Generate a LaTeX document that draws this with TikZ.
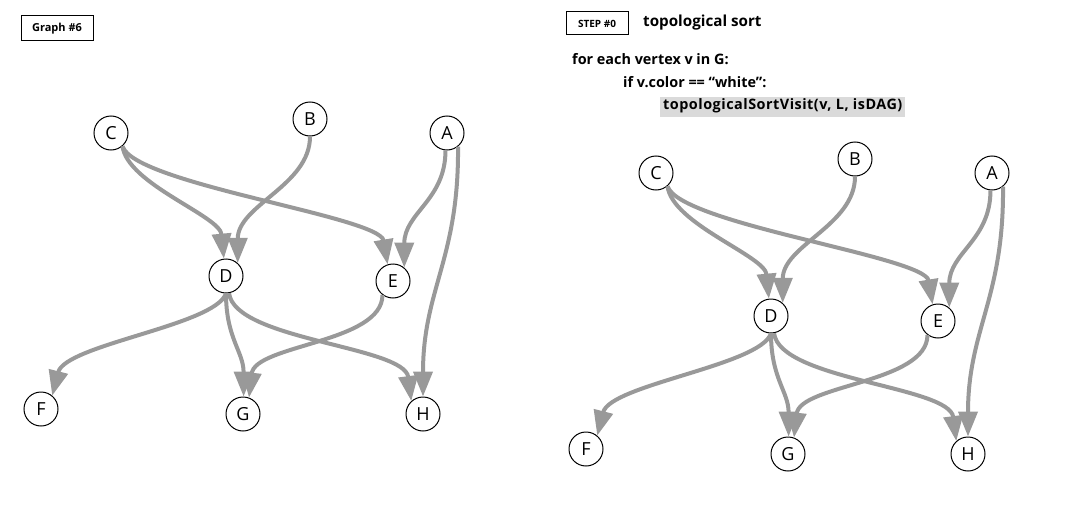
\documentclass[tikz,border=0pt]{standalone}
\usepackage{fontspec}
\setmainfont{Open Sans}
\usepackage{xcolor}
\usepackage{tikz}
\usetikzlibrary{arrows.meta}
\definecolor{ink}{HTML}{000000}
\definecolor{edgegray}{HTML}{999999}
\definecolor{hilite}{HTML}{DADADA}
\tikzset{
  vertex/.style={circle,draw=ink,line width=1pt,fill=white,minimum size=34pt,inner sep=0pt,font=\fontsize{18}{20}\selectfont},
  dagedge/.style={-{Triangle[length=25pt,width=19pt]},line width=4pt,draw=edgegray},
  tag/.style={draw=ink,line width=1pt,inner sep=0pt,font=\bfseries\fontsize{11}{13}\selectfont},
  codeline/.style={anchor=base west,inner sep=0pt,font=\bfseries\fontsize{14.4}{16}\selectfont}
}

\begin{document}
\begin{tikzpicture}[x=1pt,y=-1pt]
  \useasboundingbox (0,0) rectangle (1084,511);

  \node[tag,minimum width=72pt,minimum height=25pt] (graphtag) at (57,28.5) {Graph \#6};
  \node[tag,minimum width=62pt,minimum height=23pt,font=\bfseries\fontsize{10}{12}\selectfont] (steptag) at (597,23.5) {STEP \#0};
  \node[codeline,font=\bfseries\fontsize{15.2}{17}\selectfont] (title) at (643,27) {topological sort};
  \node[codeline] (loopline) at (572,65) {for each vertex v in G:};
  \node[codeline] (ifline) at (623,88) {if v.color == “white”:};
  \node[codeline,fill=hilite,inner xsep=3pt,inner ysep=2.5pt,text height=11pt,text depth=4pt] (callline) at (660,110) {\addfontfeature{LetterSpace=3.5}topologicalSortVisit(v, L, isDAG)};

  % same graph twice: before the run and at step 0
  \foreach \g/\dx/\dy in {l/0/0,r/545/40}{
    \begin{scope}[shift={(\dx,\dy)}]
      \node[vertex] (\g C) at (111,133) {C};
      \node[vertex] (\g B) at (310,119) {B};
      \node[vertex] (\g A) at (447,133) {A};
      \node[vertex] (\g D) at (226,276) {D};
      \node[vertex] (\g E) at (393,281) {E};
      \node[vertex] (\g F) at (41,409) {F};
      \node[vertex] (\g G) at (243,414) {G};
      \node[vertex] (\g H) at (423,414) {H};

      \draw[dagedge] (\g C.-49) .. controls +(5,38) and +(-4,-43) .. (\g D.97);
      \draw[dagedge] (\g C.-49) .. controls +(12,38) and +(-8,-48) .. (\g E.108);
      \draw[dagedge] (\g B.south) .. controls +(0,49) and +(0,-58) .. (\g D.48);
      \draw[dagedge] (\g A.-95) .. controls +(0,50) and +(0,-55) .. (\g E.50);
      \draw[dagedge] (\g A.-51) .. controls +(1,112) and +(0,-107) .. (\g H.north);
      \draw[dagedge] (\g D.south) .. controls +(-11,32) and +(13,-51) .. (\g F.50);
      \draw[dagedge] (\g D.south) .. controls +(0,45) and +(0,-45) .. (\g G.88);
      \draw[dagedge] (\g D.-80) .. controls +(6,47) and +(-7,-55) .. (\g H.132);
      \draw[dagedge] (\g E.-127) .. controls +(0,48) and +(6,-53) .. (\g G.70);
    \end{scope}
  }
\end{tikzpicture}
\end{document}
